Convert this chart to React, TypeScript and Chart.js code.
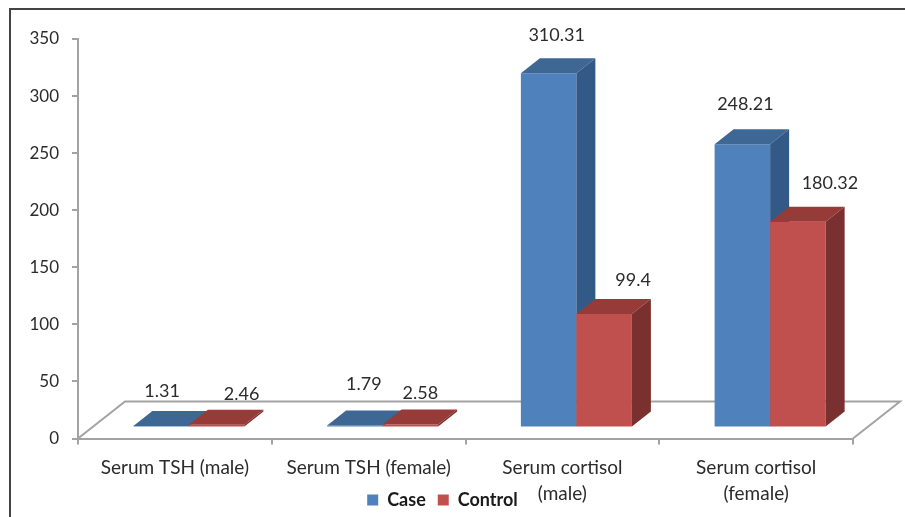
import React, { useEffect, useRef } from "react";
import { Chart, registerables } from "chart.js";

Chart.register(...registerables);

const categories = [
  "Serum TSH (male)",
  "Serum TSH (female)",
  ["Serum cortisol", "(male)"],
  ["Serum cortisol", "(female)"],
];
const caseValues = [1.31, 1.79, 310.31, 248.21];
const controlValues = [2.46, 2.58, 99.4, 180.32];
const yTicks = [0, 50, 100, 150, 200, 250, 300, 350];

const FONT = "Lato, Carlito, sans-serif";
const TEXT = "#2b2b2b";
const GRAY = "#a3a3a3";
const SHIFT = { x: 14, y: -11 };
const DEPTH = { x: 19, y: -15 };
const FLOOR = { x: 47, y: -37 };
const faces = [
  { top: "#3E6794", side: "#335A86" },
  { top: "#963B38", side: "#7A302E" },
];
const labelOffsets = [
  [[1, -35], [9, -41], [8, -38], [3, -40]],
  [[25, -31], [10, -31], [29, -34], [32, -38]],
];

const chart3d = {
  id: "chart3d",
  beforeDraw(chart: any) {
    const { ctx, width, height } = chart;
    ctx.save();
    ctx.fillStyle = "#fff";
    ctx.fillRect(0, 0, width, height);
    ctx.strokeStyle = "#444";
    ctx.lineWidth = 2;
    ctx.beginPath();
    ctx.moveTo(10, height);
    ctx.lineTo(10, 9);
    ctx.lineTo(width, 9);
    ctx.stroke();
    ctx.restore();
  },
  afterLayout(chart: any) {
    const l = chart.legend;
    l.left += 16;
    l.right += 16;
    l.top += 6;
    l.bottom += 6;
    chart.scales.x.bottom = chart.height;
  },
  beforeDatasetDraw() {
    return false;
  },
  afterDatasetsDraw(chart: any) {
    const { ctx, chartArea: a } = chart;
    ctx.save();
    ctx.strokeStyle = GRAY;
    ctx.lineWidth = 2;
    ctx.beginPath();
    ctx.moveTo(a.left, a.bottom);
    ctx.lineTo(a.left + FLOOR.x, a.bottom + FLOOR.y);
    ctx.lineTo(a.right + FLOOR.x, a.bottom + FLOOR.y);
    ctx.lineTo(a.right, a.bottom);
    ctx.stroke();
    ctx.translate(SHIFT.x, SHIFT.y);
    const metas = [chart.getDatasetMeta(0), chart.getDatasetMeta(1)];
    const n = chart.data.labels.length;
    for (let i = 0; i < n; i++) {
      metas.forEach((meta: any, d: number) => {
        const el = meta.data[i];
        el.draw(ctx);
        const l = el.x - el.width / 2;
        const r = el.x + el.width / 2;
        const t = el.y;
        const b = el.base;
        ctx.fillStyle = faces[d].top;
        ctx.beginPath();
        ctx.moveTo(l, t);
        ctx.lineTo(l + DEPTH.x, t + DEPTH.y);
        ctx.lineTo(r + DEPTH.x, t + DEPTH.y);
        ctx.lineTo(r, t);
        ctx.closePath();
        ctx.fill();
        ctx.fillStyle = faces[d].side;
        ctx.beginPath();
        ctx.moveTo(r, t);
        ctx.lineTo(r + DEPTH.x, t + DEPTH.y);
        ctx.lineTo(r + DEPTH.x, b + DEPTH.y);
        ctx.lineTo(r, b);
        ctx.closePath();
        ctx.fill();
      });
    }
    ctx.font = `18px ${FONT}`;
    ctx.fillStyle = TEXT;
    ctx.textAlign = "center";
    ctx.textBaseline = "middle";
    metas.forEach((meta: any, d: number) => {
      meta.data.forEach((el: any, i: number) => {
        const [ox, oy] = labelOffsets[d][i];
        ctx.fillText(String(chart.data.datasets[d].data[i]), el.x + ox, el.y + oy);
      });
    });
    ctx.restore();
  },
};

export default function App() {
  const ref = useRef<HTMLCanvasElement>(null);
  useEffect(() => {
    const chart = new Chart(ref.current as any, {
      type: "bar",
      data: {
        labels: categories as any,
        datasets: [
          { label: "Case", data: caseValues, backgroundColor: "#4F81BD", categoryPercentage: 0.573, barPercentage: 1 },
          { label: "Control", data: controlValues, backgroundColor: "#C0504D", categoryPercentage: 0.573, barPercentage: 1 },
        ],
      },
      plugins: [chart3d as any],
      options: {
        responsive: false,
        animation: false,
        layout: { padding: { top: 39, right: 52, bottom: 4, left: 0 } },
        plugins: {
          tooltip: { enabled: false },
          title: { display: false },
          legend: {
            display: true,
            position: "bottom",
            labels: {
              boxWidth: 11,
              boxHeight: 11,
              padding: 12,
              color: "#1a1a1a",
              font: { family: FONT, size: 18, weight: "bold" },
            },
          },
        },
        scales: {
          x: {
            grid: { drawOnChartArea: false, drawTicks: true, tickLength: 6, color: GRAY, lineWidth: 2 },
            border: { color: GRAY, width: 2 },
            ticks: {
              color: TEXT,
              padding: 10,
              maxRotation: 0,
              autoSkip: false,
              font: { family: FONT, size: 19, lineHeight: 1.37 },
            },
            afterFit(s: any) {
              s.height = 34.5;
            },
          },
          y: {
            min: 0,
            max: 350,
            afterBuildTicks(s: any) {
              s.ticks = yTicks.map((value) => ({ value }));
            },
            grid: { drawOnChartArea: false, tickLength: 6, color: GRAY, lineWidth: 2 },
            border: { color: GRAY, width: 2 },
            ticks: {
              color: TEXT,
              padding: 13,
              font: { family: FONT, size: 17 },
            },
            afterFit(s: any) {
              s.width = 78;
            },
          },
        },
      },
    } as any);
    return () => chart.destroy();
  }, []);
  return (
    <div style={{ position: "absolute", left: 0, top: 0 }}>
      <canvas ref={ref} width={905} height={517} style={{ display: "block" }} />
    </div>
  );
}
